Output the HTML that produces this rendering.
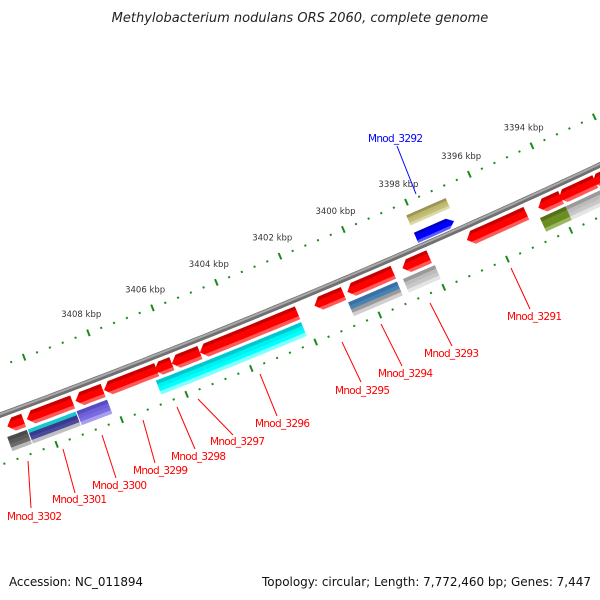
<!DOCTYPE html>
<html><head><meta charset="utf-8"><style>
html,body{margin:0;padding:0;background:#fff;}
svg{display:block;}
text{font-family:"DejaVu Sans","Liberation Sans",sans-serif;}
</style></head><body>
<svg id="map" width="600" height="600" viewBox="0 0 600 600" xmlns="http://www.w3.org/2000/svg">
<rect width="600" height="600" fill="#fff"/>
<text x="300" y="22" text-anchor="middle" font-size="13" font-style="italic" fill="#222">Methylobacterium nodulans ORS 2060, complete genome</text>
<g id="ticks"></g>
<g id="backbone"></g>
<g id="feats"></g>
<g id="labels"></g>
<text x="9" y="586" font-size="12" fill="#111" textLength="134">Accession: NC_011894</text>
<text x="591" y="586" font-size="12" fill="#111" text-anchor="end" textLength="329">Topology: circular; Length: 7,772,460 bp; Genes: 7,447</text>
</svg>
<script>
// ---- data ----
var featStart = [3411.15,3410.55,3409.05,3408.17,3406.61,3406.07,3405.20,3401.63,3400.60,3398.87,3396.84,3394.58,3393.93,3392.86,
                 3411.26,3410.63,3409.13,3406.68,3405.24,3400.70,3398.98,3394.66,3393.85,
                 3398.16,3398.16];
var featEnd   = [3410.65,3409.14,3408.20,3406.54,3406.07,3405.20,3402.16,3400.72,3399.16,3398.03,3394.96,3393.86,3392.77,3392.0,
                 3410.66,3409.16,3408.19,3405.24,3402.17,3399.17,3397.98,3393.85,3392.2,
                 3396.96,3396.91];
var featRing  = [1,1,1,1,1,1,1,1,1,1,1,1,1,1, 2,2,2,2,2,2,2,2,2, -1,-2];
var featDir   = [-1,-1,-1,-1,-1,-1,-1,-1,-1,-1,-1,-1,-1,-1, 0,0,0,0,0,0,0,0,0, 1,0];
var featColor = ["red","red","red","red","red","red","red","red","red","red","red","red","red","red",
                 "dgray","stripe","purple","cyan","cyan","steel","lgray","olive","lgray",
                 "blue","khaki"];
var majorTicks = [3410,3408,3406,3404,3402,3400,3398,3396,3394,3392];
var tickLabels = ["","3408 kbp","3406 kbp","3404 kbp","3402 kbp","3400 kbp","3398 kbp","3396 kbp","3394 kbp",""];
var labelNames = ["Mnod_3302","Mnod_3301","Mnod_3300","Mnod_3299","Mnod_3298","Mnod_3297","Mnod_3296","Mnod_3295","Mnod_3294","Mnod_3293","Mnod_3291","Mnod_3292"];

// ---- geometry ----
var NS="http://www.w3.org/2000/svg";
var R=7546, CX=-2602, CY=-6668;
var PHI0=Math.atan2(415-CY,0-CX);
function pt(k,v){var s=112+(3408-k)*34.6;var ph=PHI0-s/R;var r=R+v;return [CX+r*Math.cos(ph),CY+r*Math.sin(ph)];}
function mk(tag,attrs,parent){var e=document.createElementNS(NS,tag);for(var a in attrs)e.setAttribute(a,attrs[a]);parent.appendChild(e);return e;}
var rings={1:[6,20],2:[23,38],"-1":[-15,-4],"-2":[-34,-23]};
var pal={red:["#c80000","#ff0000","#ff0000","#ff5a5a"],dgray:["#4a4a4a","#5a5a5a","#6a6a6a","#b8b8b8"],
 stripe:["#18c8d0","#3a3a8a","#4a4aa0","#c0c0c0"],purple:["#5a4cc0","#6e60d8","#7a6ce0","#a89ef0"],
 cyan:["#00c8d0","#00f0f0","#00ffff","#80ffff"],steel:["#3a70a8","#4682b4","#9a9a9a","#d0d0d0"],
 lgray:["#9a9a9a","#bcbcbc","#c8c8c8","#e4e4e4"],olive:["#557018","#6b8e23","#6b8e23","#9ab860"],
 blue:["#0000c0","#0000ff","#0000ff","#5a5aff"],khaki:["#9a9456","#bdb76b","#c4be78","#dcd8a8"]};

var tg=document.getElementById('ticks');
for(var k10=34120;k10>=33916;k10-=4){
  var k=k10/10;
  var major=(k10%20===0);
  [-46,47].forEach(function(v){
    var L=major?3.5:1;
    var a=pt(k,v-L),b=pt(k,v+L);
    var ln=mk('line',{x1:a[0],y1:a[1],x2:b[0],y2:b[1],stroke:'#1a8a1a','stroke-width':2},tg);
    
    
  });
}
majorTicks.forEach(function(k,i){
  if(!tickLabels[i])return;
  var p=pt(k,-66);
  var t=mk('text',{x:p[0],y:p[1]+3,'font-size':8.5,'text-anchor':'middle',fill:'#333'},tg);
  t.textContent=tickLabels[i];
  
  
});

var bg=document.getElementById('backbone');
function arcPath(v){var d="";for(var k=3412.5;k>=3391;k-=0.25){var p=pt(k,v);d+=(d?"L":"M")+p[0].toFixed(2)+","+p[1].toFixed(2);}return d;}
var b1=mk('path',{d:arcPath(0),stroke:'#707070','stroke-width':5.5,fill:'none'},bg);


var b2=mk('path',{d:arcPath(-1),stroke:'#a8a8a8','stroke-width':2,fill:'none'},bg);



var fg=document.getElementById('feats');
function bandPoly(khi,klo,v1,v2,dir,va,vb){
  var vm=(v1+v2)/2,hw=(v2-v1)/2,h=0.19;
  function leftK(v){return dir<0? khi-h*Math.abs(v-vm)/hw : khi;}
  function rightK(v){return dir>0? klo+h*Math.abs(v-vm)/hw : klo;}
  var vs=[va];if(vm>va&&vm<vb)vs.push(vm);vs.push(vb);
  var pts=[];
  var n=8,i;
  for(i=0;i<=n;i++){var kk=leftK(va)+(rightK(va)-leftK(va))*i/n;pts.push(pt(kk,va));}
  for(i=0;i<vs.length;i++){pts.push(pt(rightK(vs[i]),vs[i]));}
  for(i=0;i<=n;i++){var kk2=rightK(vb)+(leftK(vb)-rightK(vb))*i/n;pts.push(pt(kk2,vb));}
  for(i=vs.length-1;i>=0;i--){pts.push(pt(leftK(vs[i]),vs[i]));}
  return pts.map(function(p){return p[0].toFixed(2)+","+p[1].toFixed(2);}).join(" ");
}
for(var f=0;f<featStart.length;f++){
  var rg=rings[featRing[f]],v1=rg[0],v2=rg[1],cols=pal[featColor[f]];
  var g=mk('g',{},fg);
  
  
  var fr=[0,0.25,0.5,0.75,1];
  for(var b=0;b<4;b++){
    var va=v1+(v2-v1)*fr[b],vb=v1+(v2-v1)*fr[b+1]+(b<3?0.4:0);
    var pg=mk('polygon',{points:bandPoly(featStart[f],featEnd[f],v1,v2,featDir[f],va,vb),fill:cols[b]},g);
    
    
  }
}

var lg=document.getElementById('labels');
var labelPos=[[7,520,28,461,31,508],[52,503,63,449,75,493],[92,489,102,435,116,478],[133,474,143,420,155,463],
 [171,460,177,407,195,449],[210,445,198,399,233,435],[255,427,260,374,277,416],[335,394,342,342,361,382],
 [378,377,381,324,402,366],[424,357,430,303,452,346],[507,320,511,268,530,309],[368,142,397,146,416,194]];
labelNames.forEach(function(nm,i){
  var p=labelPos[i];var col=(nm==="Mnod_3292")?"#0000ff":"#ff0000";
  var ln=mk('line',{x1:p[2],y1:p[3],x2:p[4],y2:p[5],stroke:col,'stroke-width':1},lg);
  
  
  var t=mk('text',{x:p[0],y:p[1],'font-size':10.5,fill:col,textLength:55},lg);
  t.textContent=nm;
  
  
});
</script>
</body></html>
